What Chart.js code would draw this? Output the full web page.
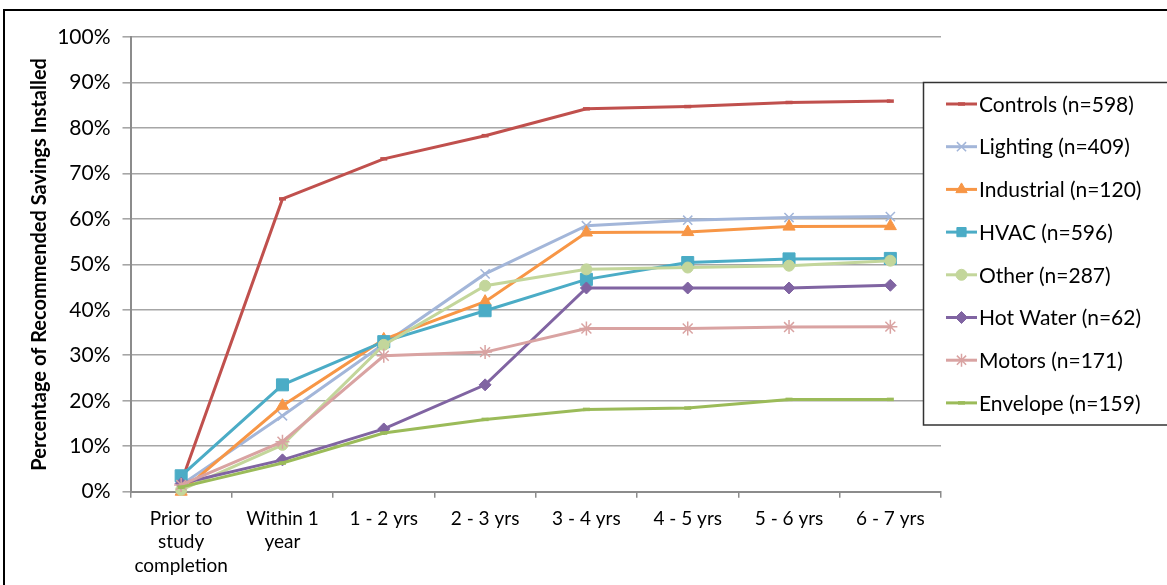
<!DOCTYPE html>
<html>
<head>
<meta charset="utf-8">
<script src="https://cdn.jsdelivr.net/npm/chart.js@4.4.1/dist/chart.umd.min.js"></script>
<style>
  html, body { margin: 0; padding: 0; background: #fff; overflow: hidden; }
  #wrap { position: relative; width: 1167px; height: 585px; overflow: hidden; }
  #frame { position: absolute; left: 3px; top: 9px; width: 1200px; height: 620px; border: 2px solid #000; box-sizing: border-box; }
  #c { position: absolute; left: 0; top: 0; }
</style>
</head>
<body>
<div id="wrap">
  <div id="frame"></div>
  <canvas id="c" width="1167" height="585"></canvas>
</div>
<script>
// Time since the study, per category of recommended measure
const periods = [
  ['Prior to', 'study', 'completion'],
  ['Within 1', 'year'],
  '1 - 2 yrs', '2 - 3 yrs', '3 - 4 yrs', '4 - 5 yrs', '5 - 6 yrs', '6 - 7 yrs'
];

// Cumulative share of recommended savings installed (%)
const controls   = [2.0, 64.4, 73.2, 78.3, 84.2, 84.7, 85.6, 85.9];
const lighting   = [1.5, 16.7, 32.5, 47.9, 58.5, 59.7, 60.3, 60.5];
const industrial = [0.0, 18.9, 33.5, 41.8, 57.0, 57.1, 58.3, 58.4];
const hvac       = [3.5, 23.5, 33.0, 39.8, 46.7, 50.4, 51.2, 51.3];
const other      = [0.4, 10.3, 32.3, 45.3, 48.9, 49.3, 49.7, 50.8];
const hotWater   = [1.8, 7.0, 13.8, 23.5, 44.8, 44.8, 44.8, 45.4];
const motors     = [1.5, 11.0, 29.9, 30.7, 35.9, 35.9, 36.2, 36.3];
const envelope   = [1.0, 6.3, 12.9, 15.9, 18.1, 18.4, 20.3, 20.3];

const seriesLabels = [
  'Controls (n=598)', 'Lighting (n=409)', 'Industrial (n=120)', 'HVAC (n=596)',
  'Other (n=287)', 'Hot Water (n=62)', 'Motors (n=171)', 'Envelope (n=159)'
];

const yTicks = [0, 10, 20, 30, 40, 50, 60, 70, 80, 90, 100];

const FONT = 'Lato, "Open Sans", "Liberation Sans", sans-serif';

function series(i, data, color, style, radius, bw, fill) {
  return {
    label: seriesLabels[i],
    data: data,
    borderColor: color,
    backgroundColor: fill || color,
    borderWidth: 3,
    tension: 0,
    pointStyle: style,
    pointRadius: radius,
    pointHoverRadius: radius,
    pointBorderWidth: bw,
    pointBorderColor: color,
    pointBackgroundColor: fill || color,
    clip: false,
    order: 8 - i
  };
}

const datasets = [
  series(0, controls,   '#C0504D', 'line',     3.5, 3.5),
  series(1, lighting,   '#A3B6D9', 'crossRot', 6.5, 1.5),
  series(2, industrial, '#F79646', 'triangle', 7,   1),
  series(3, hvac,       '#4BACC6', 'rect',     8.5, 1),
  series(4, other,      '#C3D69B', 'circle',   5.5, 1),
  series(5, hotWater,   '#8064A2', 'rectRot',  6,   1),
  series(6, motors,     '#D9A3A2', 'star',     7,   1.5),
  series(7, envelope,   '#9BBB59', 'line',     3.5, 3.5)
];

// Boxed legend drawn over the right edge of the plot
const boxLegend = {
  id: 'boxLegend',
  afterDraw(chart) {
    const ctx = chart.ctx;
    const left = 923.5, top = 82.5, bottom = 425, right = 1190;
    ctx.save();
    ctx.fillStyle = '#fff';
    ctx.fillRect(left, top, right - left, bottom - top);
    ctx.strokeStyle = '#333';
    ctx.lineWidth = 1.5;
    ctx.strokeRect(left, top, right - left, bottom - top);
    const rowY0 = 104, rowGap = 42.7;
    chart.data.datasets.forEach((ds, i) => {
      const y = rowY0 + i * rowGap;
      ctx.strokeStyle = ds.borderColor;
      ctx.lineWidth = 3;
      ctx.beginPath();
      ctx.moveTo(946, y);
      ctx.lineTo(977, y);
      ctx.stroke();
      ctx.fillStyle = ds.pointBackgroundColor;
      ctx.strokeStyle = ds.pointBorderColor;
      ctx.lineWidth = ds.pointBorderWidth;
      if (Chart.helpers && Chart.helpers.drawPoint) {
        Chart.helpers.drawPoint(ctx, {
          pointStyle: ds.pointStyle,
          radius: Math.min(ds.pointRadius, 6.5),
          rotation: 0,
          borderWidth: ds.pointBorderWidth
        }, 961.5, y);
      }
      ctx.fillStyle = '#000';
      ctx.font = '21px ' + FONT;
      ctx.textAlign = 'left';
      ctx.textBaseline = 'middle';
      ctx.fillText(ds.label, 979, y + 1);
    });
    ctx.restore();
  }
};

new Chart(document.getElementById('c'), {
  type: 'line',
  data: { labels: periods, datasets: datasets },
  options: {
    responsive: false,
    animation: false,
    events: [],
    layout: { padding: { left: 0, top: 37, right: 226, bottom: 0 } },
    plugins: {
      legend: { display: false },
      tooltip: { enabled: false }
    },
    scales: {
      x: {
        type: 'category',
        offset: true,
        grid: {
          display: true,
          offset: true,
          drawOnChartArea: false,
          drawTicks: true,
          tickLength: 6,
          color: '#8C8C8C',
          lineWidth: 1.5
        },
        border: { display: true, color: '#8C8C8C', width: 2 },
        ticks: {
          autoSkip: false,
          maxRotation: 0,
          minRotation: 0,
          padding: 9,
          color: '#000',
          font: { family: FONT, size: 19, lineHeight: 1.24 }
        },
        afterFit(scale) { scale.height = 93.3; }
      },
      y: {
        min: 0,
        max: 100,
        afterBuildTicks(scale) { scale.ticks = yTicks.map(v => ({ value: v })); },
        grid: {
          color: '#A6A6A6',
          lineWidth: 1.6,
          tickLength: 8,
          drawTicks: true
        },
        border: { display: true, color: '#8C8C8C', width: 2 },
        ticks: {
          padding: 12,
          color: '#000',
          font: { family: FONT, size: 21 },
          callback: v => v + '%'
        },
        title: {
          display: true,
          text: 'Percentage of Recommended Savings Installed',
          color: '#000',
          font: { family: FONT, size: 20, weight: 'bold' },
          padding: { top: 28, bottom: 0 }
        },
        afterFit(scale) { scale.width = 130.5; }
      }
    }
  },
  plugins: [boxLegend]
});
</script>
</body>
</html>
